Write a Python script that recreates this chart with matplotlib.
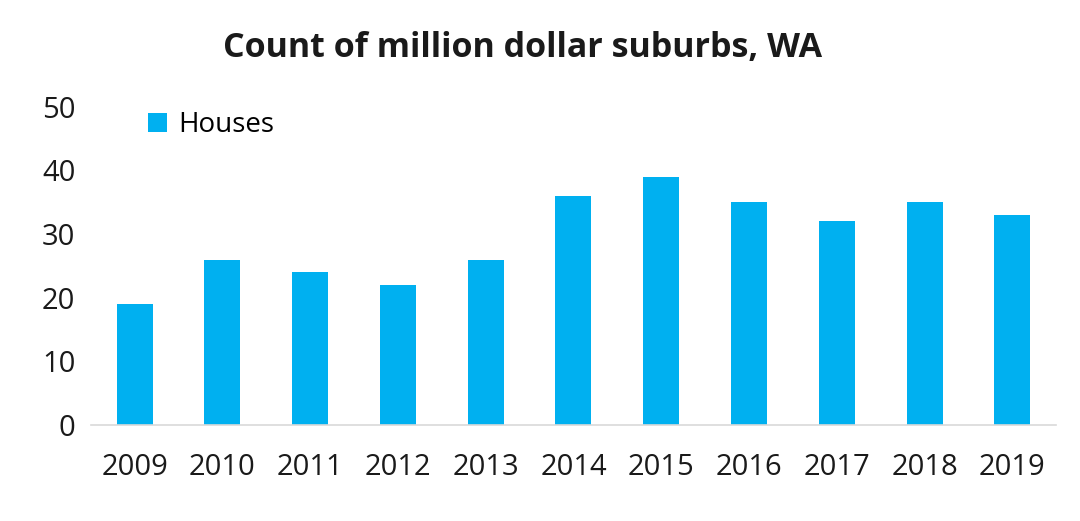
import matplotlib.pyplot as plt
import numpy as np

plt.rcParams['font.family'] = ['Open Sans', 'DejaVu Sans']

years = ['2009', '2010', '2011', '2012', '2013', '2014', '2015', '2016', '2017', '2018', '2019']
houses = [19, 26, 24, 22, 26, 36, 39, 35, 32, 35, 33]

fig = plt.figure(figsize=(10.8, 5.21), dpi=100)
ax = fig.add_axes([0.084, 0.184, 0.894, 0.611])

x = np.arange(len(years))
ax.bar(x, houses, width=0.41, color='#00B0F0', label='Houses')

ax.set_xlim(-0.5, len(years) - 0.5)
ax.set_ylim(0, 50)
ax.set_yticks(range(0, 51, 10))
ax.set_xticks(x)
ax.set_xticklabels(years)
ax.tick_params(axis='both', length=0, labelsize=21, colors='#1a1a1a')
ax.tick_params(axis='x', pad=20)
ax.tick_params(axis='y', pad=11)

for s in ['top', 'right', 'left']:
    ax.spines[s].set_visible(False)
ax.spines['bottom'].set_color('#d9d9d9')
ax.spines['bottom'].set_linewidth(1.2)

ax.legend(loc='upper left', bbox_to_anchor=(0.033, 1.065), frameon=False,
          fontsize=20, handlelength=0.7, handleheight=0.7, handletextpad=0.4)

fig.text(0.484, 0.908, 'Count of million dollar suburbs, WA', ha='center', va='center',
         fontsize=24.5, fontweight='bold', color='#1a1a1a')

fig.savefig('out.png', dpi=100)
